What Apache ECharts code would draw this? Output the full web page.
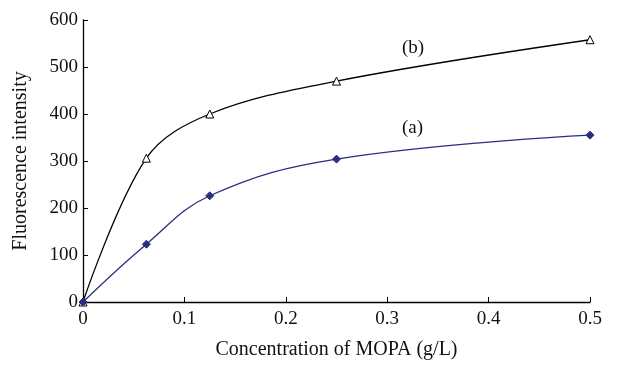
<!DOCTYPE html>
<html>
<head>
<meta charset="utf-8">
<script src="https://cdn.jsdelivr.net/npm/echarts@6/dist/echarts.min.js"></script>
<style>
  html, body { margin: 0; padding: 0; background: #fff; }
  #chart { width: 619px; height: 365px; }
</style>
</head>
<body>
<div id="chart"></div>
<script>
const concentration = [0, 0.0625, 0.125, 0.25, 0.5];
const seriesB = [0, 306, 400, 470, 558];
const seriesA = [0, 123, 226, 304, 355];
const labelB = "(b)";
const labelA = "(a)";

const font = "Liberation Serif, DejaVu Serif, serif";
const chart = echarts.init(document.getElementById("chart"));

chart.setOption({
  animation: false,
  grid: { left: 83, right: 29, top: 20, bottom: 61 },
  xAxis: {
    type: "value",
    min: 0, max: 0.5, interval: 0.1,
    name: "Concentration of MOPA (g/L)",
    nameLocation: "middle",
    nameGap: 38,
    nameTextStyle: { fontFamily: font, fontSize: 20, color: "#111" },
    axisLine: { lineStyle: { color: "#000", width: 1.3 } },
    axisTick: { inside: true, length: 5, lineStyle: { color: "#000" } },
    axisLabel: { fontFamily: font, fontSize: 19, color: "#111", margin: 8 },
    splitLine: { show: false }
  },
  yAxis: {
    type: "value",
    min: 0, max: 600, interval: 100,
    name: "Fluorescence intensity",
    nameLocation: "middle",
    nameGap: 52,
    nameTextStyle: { fontFamily: font, fontSize: 20, color: "#111" },
    axisLine: { show: true, lineStyle: { color: "#000", width: 1.3 } },
    axisTick: { show: true, inside: true, length: 5, lineStyle: { color: "#000" } },
    axisLabel: { fontFamily: font, fontSize: 19, color: "#111", margin: 5 },
    splitLine: { show: false }
  },
  graphic: [
    { type: "text", left: 402, top: 39, style: { text: labelB, font: "19px " + font, fill: "#111" } },
    { type: "text", left: 402, top: 119, style: { text: labelA, font: "19px " + font, fill: "#111" } }
  ],
  series: [
    {
      name: labelB,
      type: "line",
      smooth: 0.35,
      data: concentration.map((x, i) => [x, seriesB[i]]),
      symbol: "triangle",
      symbolSize: 8,
      itemStyle: { color: "#fff", borderColor: "#000", borderWidth: 1 },
      lineStyle: { color: "#000", width: 1.3 }
    },
    {
      name: labelA,
      type: "line",
      smooth: 0.4,
      data: concentration.map((x, i) => [x, seriesA[i]]),
      symbol: "diamond",
      symbolSize: 8,
      itemStyle: { color: "#2b2d80", borderColor: "#2b2d80" },
      lineStyle: { color: "#2b2d80", width: 1.3 }
    }
  ]
});
</script>
</body>
</html>
